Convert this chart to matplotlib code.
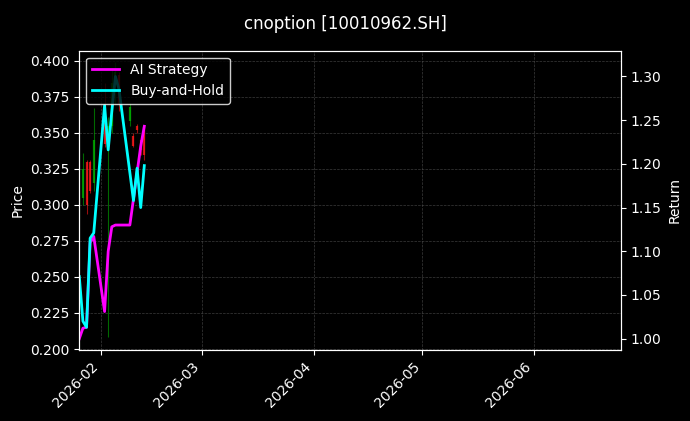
import matplotlib
matplotlib.use("Agg")
import matplotlib.pyplot as plt
import matplotlib.dates as mdates
import numpy as np
import pandas as pd

dates = pd.to_datetime(["2026-01-26", "2026-01-27", "2026-01-28", "2026-01-29", "2026-01-30",
                        "2026-02-02", "2026-02-03", "2026-02-04", "2026-02-05", "2026-02-06",
                        "2026-02-09", "2026-02-10", "2026-02-11", "2026-02-12", "2026-02-13"])
opens  = [0.300, 0.305, 0.330, 0.330, 0.315, 0.357, 0.340, 0.355, 0.385, 0.390, 0.358, 0.348, 0.355, 0.345, 0.354]
highs  = [0.310, 0.336, 0.331, 0.331, 0.367, 0.385, 0.361, 0.395, 0.399, 0.392, 0.371, 0.350, 0.356, 0.348, 0.355]
lows   = [0.290, 0.300, 0.294, 0.308, 0.310, 0.340, 0.208, 0.350, 0.370, 0.365, 0.355, 0.340, 0.350, 0.335, 0.331]
closes = [0.305, 0.325, 0.300, 0.310, 0.345, 0.342, 0.355, 0.385, 0.392, 0.370, 0.368, 0.341, 0.352, 0.338, 0.335]
ai_ret = [1.000, 1.012, 1.013, 1.110, 1.117, 1.031, 1.100, 1.128, 1.130, 1.130, 1.130, 1.160, 1.190, 1.220, 1.243]
bh_ret = [1.071, 1.020, 1.013, 1.115, 1.121, 1.267, 1.216, 1.260, 1.300, 1.285, 1.190, 1.158, 1.195, 1.150, 1.198]

plt.style.use("dark_background")
fig = plt.figure(figsize=(6.9, 4.21), dpi=100, facecolor="black")
ax = fig.add_axes([0.1145, 0.1686, 0.7855, 0.711])
ax.set_facecolor("black")

for d, o, h, l, c in zip(dates, opens, highs, lows, closes):
    col = "#00b000" if c >= o else "#ff1a1a"
    ax.vlines(d, l, h, color=col, linewidth=0.8, alpha=0.6)
    ax.vlines(d, min(o, c), max(o, c), color=col, linewidth=1.6, alpha=0.8)

ax.set_ylabel("Price")
ax.set_ylim(0.1993, 0.4071)
ax.set_xlim(pd.Timestamp("2026-01-25 22:00"), pd.Timestamp("2026-06-25"))
ax.grid(True, linestyle="--", linewidth=0.5, color="#555555", alpha=0.7)
ax.xaxis.set_major_locator(mdates.MonthLocator())
ax.xaxis.set_major_formatter(mdates.DateFormatter("%Y-%m"))
plt.setp(ax.get_xticklabels(), rotation=45, ha="right")

ax2 = ax.twinx()
ax2.plot(dates, ai_ret, color="#ff00ff", linewidth=2, label="AI Strategy")
ax2.plot(dates, bh_ret, color="#00ffff", linewidth=2, label="Buy-and-Hold")
ax2.set_ylim(0.987, 1.3295)
ax2.set_ylabel("Return")
ax2.legend(loc="upper left", facecolor="black", edgecolor="white", framealpha=0.8)

fig.suptitle("cnoption [10010962.SH]", fontsize=12, y=0.965)
fig.savefig("out.png", dpi=100, facecolor="black")
